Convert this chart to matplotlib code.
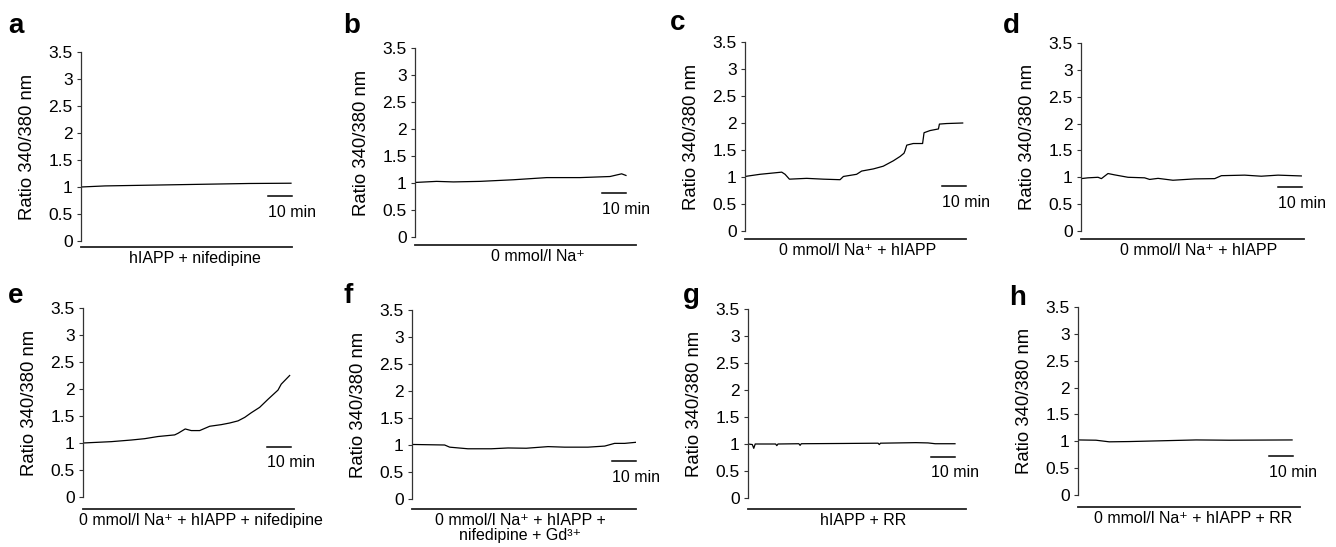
import matplotlib
matplotlib.use("Agg")
import matplotlib.pyplot as plt

plt.rcParams['font.family'] = ['Liberation Sans', 'DejaVu Sans']

# traces: time (min) and 340/380 ratio
a_t = [0, 10, 30, 50, 70, 87.5]
a_v = [1.0, 1.02, 1.035, 1.05, 1.065, 1.07]

b_t = [0, 9, 16, 27, 41, 54.9, 68.75, 81.25, 86.1, 87.9]
b_v = [1.01, 1.03, 1.02, 1.03, 1.06, 1.10, 1.10, 1.12, 1.17, 1.14]

c_t = [0, 6.25, 15.3, 16.7, 18.5, 25.7, 32.6, 39.6, 41, 46.5, 48.6, 53.5, 57.6,
       61.8, 64.6, 66.25, 66.7, 67.4, 70.1, 74, 74.6, 77.1, 80.6, 81, 84, 90.7]
c_v = [1.01, 1.05, 1.09, 1.05, 0.96, 0.975, 0.96, 0.95, 1.01, 1.05, 1.11, 1.15, 1.20,
       1.30, 1.38, 1.44, 1.49, 1.59, 1.62, 1.62, 1.82, 1.86, 1.89, 1.98, 1.99, 2.0]

d_t = [0, 2.9, 7.1, 8.5, 11.25, 14, 19.6, 26.5, 28.6, 32.1, 38.3, 47.4, 55.7,
       58.5, 68.2, 75.1, 82.1, 91.8]
d_v = [0.975, 0.99, 1.0, 0.975, 1.07, 1.045, 1.0, 0.99, 0.96, 0.98, 0.945, 0.97,
       0.975, 1.03, 1.04, 1.02, 1.04, 1.025]

e_t = [0, 11.8, 20.1, 25.7, 31.25, 38.2, 39.6, 42.6, 45.1, 48.6, 52.8, 57.6, 61.1,
       64.6, 67.4, 70.1, 73.6, 77.1, 81.25, 82.6, 86.1]
e_v = [1.0, 1.025, 1.055, 1.08, 1.12, 1.15, 1.18, 1.26, 1.23, 1.23, 1.31, 1.34, 1.37,
       1.41, 1.475, 1.56, 1.66, 1.81, 1.98, 2.09, 2.25]

f_t = [0, 13.6, 15.7, 23.3, 33, 40, 47.6, 56.7, 63.6, 73.3, 80.3, 84.4, 88.6, 93.3]
f_v = [1.01, 1.0, 0.96, 0.93, 0.93, 0.945, 0.94, 0.97, 0.96, 0.96, 0.98, 1.03, 1.03, 1.05]

g_t = [0, 1.8, 2.4, 3.0, 11.5, 12, 12.5, 21.2, 21.7, 22.2, 40, 54.2, 54.7, 55.2,
       70, 75, 78, 86.25]
g_v = [1.0, 0.99, 0.92, 1.0, 1.0, 0.97, 1.0, 1.005, 0.975, 1.005, 1.01, 1.015, 0.99,
       1.015, 1.025, 1.02, 1.005, 1.005]

h_t = [0, 7.5, 13, 21.4, 35.3, 49.2, 63, 89.2]
h_v = [1.025, 1.02, 0.99, 0.995, 1.01, 1.025, 1.02, 1.025]

letters = ['a', 'b', 'c', 'd', 'e', 'f', 'g', 'h']
conditions = [
    'hIAPP + nifedipine',
    '0 mmol/l Na⁺',
    '0 mmol/l Na⁺ + hIAPP',
    '0 mmol/l Na⁺ + hIAPP',
    '0 mmol/l Na⁺ + hIAPP + nifedipine',
    '0 mmol/l Na⁺ + hIAPP +\nnifedipine + Gd³⁺',
    'hIAPP + RR',
    '0 mmol/l Na⁺ + hIAPP + RR',
]
traces = [(a_t, a_v), (b_t, b_v), (c_t, c_v), (d_t, d_v),
          (e_t, e_v), (f_t, f_v), (g_t, g_v), (h_t, h_v)]
yticks = [0, 0.5, 1, 1.5, 2, 2.5, 3, 3.5]
ytick_labels = ['0', '0.5', '1', '1.5', '2', '2.5', '3', '3.5']

# layout in pixels: axis x, y of 3.5, y of 0, width, baseline offset,
# scale bar end (min), scale bar y, xlabel centre shift, letter x, letter baseline y
W, H = 1336, 547
PX_PER_MIN = 2.4
layout = [
    (81, 52, 241, 211, 6, 87.9, 0.83, 8, 8, 33),
    (415, 48, 237, 221, 8, 87.9, 0.81, 12, 343, 33),
    (745, 42, 231, 221, 8, 92.1, 0.83, 2, 670, 30),
    (1081, 43, 231, 223, 8, 92.1, 0.81, 6, 1003, 33),
    (83, 308, 497, 211, 12, 86.7, 0.93, 12, 8, 303),
    (412, 310, 499, 224, 10, 93.3, 0.70, -4, 343, 303),
    (748, 309, 498, 218, 11, 86.25, 0.76, 6, 683, 303),
    (1078, 307, 495, 222, 12, 89.6, 0.72, 4, 1009, 305),
]

fig = plt.figure(figsize=(W / 100, H / 100), dpi=100)

for i, (x0, ytop, ybot, w, boff, bar_end, bar_y, xshift, lx, ly) in enumerate(layout):
    ax = fig.add_axes([x0 / W, (H - ybot) / H, w / W, (ybot - ytop) / H])
    t, v = traces[i]
    ax.plot(t, v, color='black', lw=0.9)
    ax.set_xlim(0, w / PX_PER_MIN)
    ax.set_ylim(0, 3.5)
    ax.set_yticks(yticks)
    ax.set_yticklabels(ytick_labels)
    ax.set_xticks([])
    ax.tick_params(axis='y', labelsize=12.5, length=3, width=0.8, pad=3,
                   color='#333333')
    for s in ['top', 'right']:
        ax.spines[s].set_visible(False)
    ax.spines['left'].set_linewidth(0.9)
    ax.spines['left'].set_color('#333333')
    ax.spines['bottom'].set_position(('outward', boff * 0.72))
    ax.spines['bottom'].set_linewidth(1.3)
    ax.spines['bottom'].set_color('#222222')
    ax.set_ylabel('Ratio 340/380 nm', fontsize=13.3)
    ax.yaxis.set_label_coords(-45 / w, 0.5)

    # 10 min scale bar
    ax.plot([bar_end - 10, bar_end], [bar_y, bar_y], color='black', lw=1.1,
            clip_on=False)
    ax.annotate('10 min', xy=(bar_end - 10, bar_y), xycoords='data',
                xytext=(0, -6), textcoords='offset points',
                ha='left', va='top', fontsize=11.5)

    drop = boff + 4
    ax.annotate(conditions[i], xy=(0.5, 0), xycoords='axes fraction',
                xytext=(xshift * 0.72, -drop * 0.72), textcoords='offset points',
                ha='center', va='top', fontsize=11.5, linespacing=1.0)

    fig.text(lx / W, 1 - ly / H, letters[i], fontsize=20, fontweight='bold',
             ha='left', va='baseline')

fig.savefig('out.png', dpi=100)
